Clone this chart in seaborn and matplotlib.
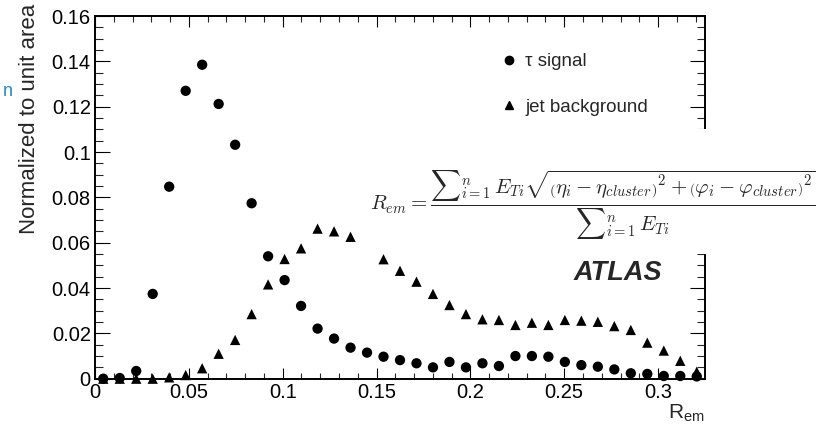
import numpy as np
import pandas as pd
import matplotlib
matplotlib.use("Agg")
import matplotlib.pyplot as plt
import seaborn as sns
from matplotlib.lines import Line2D
from matplotlib.patches import Rectangle
from matplotlib.ticker import MultipleLocator, FuncFormatter

# ---------------- data ----------------
bin_edges = np.linspace(0.0, 0.325, 38)          # 37 bins in R_em
r_em = 0.5 * (bin_edges[:-1] + bin_edges[1:])

tau_signal = [0.0, 0.0003, 0.0034, 0.0374, 0.0847, 0.1270, 0.1385, 0.1212, 0.1032, 0.0774,
              0.0540, 0.0435, 0.0321, 0.0221, 0.0177, 0.0137, 0.0115, 0.0097, 0.0082, 0.0068,
              0.0050, 0.0074, 0.0050, 0.0068, 0.0056, 0.0100, 0.0100, 0.0097, 0.0074, 0.0060,
              0.0053, 0.0041, 0.0024, 0.0021, 0.0012, 0.0012, 0.0010]
jet_background = [0.0, 0.0, 0.0, 0.0, 0.0006, 0.0016, 0.0046, 0.0110, 0.0171, 0.0285,
                  0.0416, 0.0528, 0.0575, 0.0662, 0.0650, 0.0626, 0.0580, 0.0527, 0.0476, 0.0428,
                  0.0374, 0.0325, 0.0285, 0.0262, 0.0259, 0.0237, 0.0247, 0.0237, 0.0259, 0.0256,
                  0.0251, 0.0232, 0.0215, 0.0159, 0.0124, 0.0079, 0.0031]
series_names = ["\u03c4 signal", "jet background"]
x_ticks = [0, 0.05, 0.1, 0.15, 0.2, 0.25, 0.3]
y_ticks = [0, 0.02, 0.04, 0.06, 0.08, 0.1, 0.12, 0.14, 0.16]

df = pd.concat([
    pd.DataFrame({"x": r_em, "y": jet_background, "series": series_names[1]}),
    pd.DataFrame({"x": r_em, "y": tau_signal, "series": series_names[0]}),
], ignore_index=True)

# ---------------- style ----------------
sns.set_theme(style="ticks")
plt.rcParams["font.family"] = ["Liberation Sans", "DejaVu Sans"]
plt.rcParams["axes.linewidth"] = 1.4

fig = plt.figure(figsize=(8.16, 4.24), dpi=100, facecolor="white")
ax = fig.add_axes([95 / 816, (424 - 378.7) / 424, 610 / 816, 362.7 / 424])

sns.scatterplot(data=df, x="x", y="y", style="series", style_order=series_names,
                markers={series_names[0]: "o", series_names[1]: "^"},
                color="black", s=55, linewidth=0, ax=ax, legend=False, zorder=3,
                clip_on=False)

ax.set_xlim(0, 0.325)
ax.set_ylim(0, 0.16)
ax.set_xlabel("")
ax.set_ylabel("")

fmt = FuncFormatter(lambda v, p: f"{v:g}")
ax.set_xticks(x_ticks)
ax.set_yticks(y_ticks)
ax.xaxis.set_major_formatter(fmt)
ax.yaxis.set_major_formatter(fmt)
ax.xaxis.set_minor_locator(MultipleLocator(0.01))
ax.yaxis.set_minor_locator(MultipleLocator(0.005))
ax.tick_params(axis="x", which="major", direction="in", length=8, width=0.8,
               top=True, labelsize=14.5, pad=3, colors="black")
ax.tick_params(axis="x", which="minor", direction="in", length=4.2, width=0.8, top=True)
ax.tick_params(axis="y", which="major", direction="in", length=11, width=0.8,
               right=True, labelsize=14.5, pad=3, colors="black")
ax.tick_params(axis="y", which="minor", direction="in", length=6, width=0.8, right=True)
for sp in ax.spines.values():
    sp.set_color("black")

# axis titles (ROOT style, aligned to the axis ends)
fig.text(30 / 816, 1 - 4 / 424, "Normalized to unit area", rotation=90,
         ha="center", va="top", fontsize=16)
fig.text(705 / 816, 1 - 413 / 424, r"$\mathregular{R_{em}}$", ha="right",
         va="center", fontsize=15)

# legend
handles = [Line2D([], [], marker="o", color="black", linestyle="none", markersize=6),
           Line2D([], [], marker="^", color="black", linestyle="none", markersize=6)]
ax.legend(handles, series_names, loc="upper left", bbox_to_anchor=(0.635, 0.944),
          frameon=False, fontsize=13.5, handlelength=1.0, handletextpad=0.39,
          labelspacing=1.51)

# white box with formula
fig.add_artist(Rectangle((360 / 816, (424 - 254) / 424), (816 - 360) / 816,
                         (254 - 129) / 424, transform=fig.transFigure,
                         facecolor="white", edgecolor="none", zorder=10))
formula = (r"$R_{em} = \dfrac{{\sum}_{i=1}^{n}\, E_{Ti}\sqrt{\left(\eta_i - \eta_{cluster}\right)^2"
           r" + \left(\varphi_i - \varphi_{cluster}\right)^2}}{{\sum}_{i=1}^{n}\, E_{Ti}}$")
fig.text(593 / 816, 1 - 205 / 424, formula, ha="center", va="center", fontsize=15,
         math_fontfamily="cm", zorder=11)

# ATLAS label
fig.text(618 / 816, 1 - 273 / 424, "ATLAS", ha="center", va="center",
         fontsize=19.5, fontweight="bold", fontstyle="italic")

# stray slide letter on the left
fig.text(8 / 816, 1 - 92 / 424, "n", ha="center", va="center", fontsize=13,
         color="#1f8bd0")

fig.savefig("out.png", dpi=100, facecolor="white")
